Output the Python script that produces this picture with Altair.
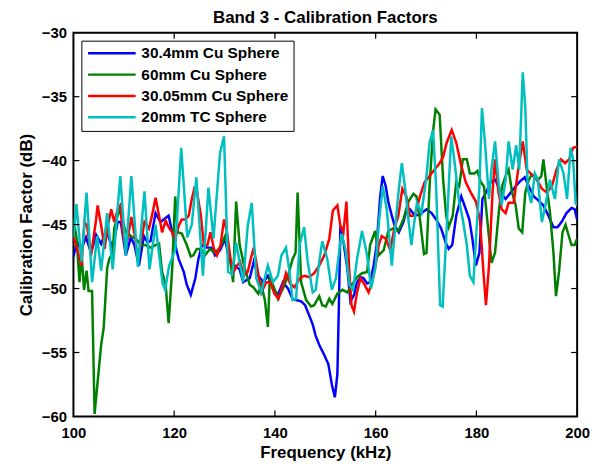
import altair as alt
import pandas as pd

SERIES = ["30.4mm Cu Sphere", "60mm Cu Sphere", "30.05mm Cu Sphere", "20mm TC Sphere"]
COLORS = ["#0000FF", "#008000", "#FF0000", "#00BFBF"]

F_BLUE = [100, 100.7, 101.5, 102.5, 103.5, 104.5, 105.5, 106.5, 107.8, 108.8, 109.4, 110.4, 111.4, 112.1,
          113.0, 114.0, 114.7, 115.3, 116.3, 117.3, 117.9, 118.9, 119.9, 120.9, 121.9, 122.5, 123.3, 124.2,
          124.8, 125.5, 126.5, 127.4, 128.1, 129.1, 130.1, 131.0, 132.0, 133.0, 133.7, 135.0, 135.8, 136.7,
          137.7, 138.6, 139.6, 140.6, 141.6, 142.6, 143.5, 144.2, 145.2, 146.0, 146.8, 147.5, 148.1, 148.9,
          149.8, 150.6, 151.3, 151.9, 152.4, 152.7, 153.0, 153.7, 154.4, 155.0, 155.7, 156.3, 157.0, 157.6,
          158.3, 158.9, 159.6, 160.2, 160.9, 161.4, 162.0, 162.5, 163.2, 163.8, 164.6, 165.5, 166.1, 166.8,
          167.8, 168.8, 170.1, 171.1, 172.0, 173.0, 173.9, 174.5, 175.2, 176.0, 177.0, 177.9, 178.6, 179.2,
          179.9, 180.6, 181.2, 181.9, 182.8, 183.8, 184.8, 185.8, 186.8, 187.8, 188.7, 189.6, 190.4, 191.4,
          192.3, 193.3, 194.3, 195.3, 196.1, 196.9, 197.9, 198.9, 199.5, 200]
V_BLUE = [-47.5, -46.3, -47.0, -46.0, -47.2, -45.8, -46.5, -45.5, -46.8, -44.8, -44.8, -47.4, -46.0, -46.6,
          -48.2, -45.9, -46.4, -46.3, -44.1, -44.8, -44.6, -44.3, -46.1, -47.7, -48.7, -49.7, -50.5, -49.2,
          -47.7, -46.6, -46.8, -46.8, -47.4, -47.0, -46.1, -47.9, -48.2, -48.5, -49.5, -49.2, -47.9, -49.0,
          -49.5, -49.0, -50.0, -50.5, -49.5, -50.0, -50.8, -50.9, -51.0, -51.3, -52.1, -52.8, -53.7, -54.5,
          -55.2, -55.9, -57.5, -58.5, -56.7, -51.3, -45.1, -46.6, -48.5, -51.0, -50.5, -49.5, -49.1, -49.2,
          -49.6, -49.5, -48.2, -46.6, -42.8, -41.2, -42.0, -43.2, -44.3, -45.1, -45.6, -44.8, -43.9, -43.8,
          -44.3, -44.2, -43.8, -44.1, -44.6, -45.3, -46.4, -46.9, -46.6, -44.3, -42.8, -43.8, -44.6, -46.1,
          -48.2, -47.2, -43.0, -42.5, -41.7, -41.5, -42.5, -43.0, -42.5, -42.0, -41.6, -41.3, -42.0, -42.8,
          -43.1, -43.5, -44.3, -45.2, -45.2, -44.8, -44.1, -43.7, -43.8, -44.6]

F_GREEN = [100, 100.6, 101.2, 101.6, 102.1, 102.6, 103.0, 103.7, 104.2, 105.5, 106.0, 106.7, 107.1, 107.8,
           108.1, 109.1, 109.7, 110.4, 111.4, 112.4, 113.4, 114.3, 115.3, 116.3, 117.0, 117.6, 118.3, 118.9,
           119.6, 120.2, 120.7, 121.5, 122.5, 123.3, 123.8, 124.5, 125.3, 126.1, 127.1, 128.1, 129.1, 130.1,
           130.9, 131.7, 132.3, 133.0, 134.0, 135.0, 135.7, 136.7, 137.3, 138.0, 138.6, 139.0, 139.6, 140.6,
           141.6, 142.6, 143.5, 144.1, 144.5, 145.2, 146.2, 147.2, 147.8, 148.8, 149.4, 150.1, 150.8, 151.4,
           152.4, 153.4, 154.4, 155.3, 156.3, 157.3, 158.3, 158.9, 159.9, 160.6, 161.6, 162.5, 163.5, 164.5,
           165.5, 166.5, 167.5, 168.1, 168.8, 169.6, 170.1, 170.7, 171.4, 171.9, 172.7, 173.4, 174.0, 174.5,
           175.3, 176.0, 176.6, 177.3, 178.1, 178.7, 179.6, 180.2, 180.9, 181.5, 183.0, 183.7, 184.5, 185.1,
           185.8, 186.4, 187.1, 187.8, 188.4, 189.1, 189.7, 190.4, 191.0, 191.7, 192.3, 192.9, 193.3, 194.0,
           194.6, 195.3, 195.8, 196.4, 197.1, 197.7, 198.2, 198.9, 199.5, 200]
V_GREEN = [-44.5, -46.0, -49.5, -47.2, -50.1, -48.6, -50.2, -50.2, -59.8, -54.4, -53.1, -48.4, -47.7, -47.2,
           -45.3, -43.8, -44.6, -45.6, -45.9, -46.1, -46.6, -46.6, -46.8, -46.6, -46.5, -48.7, -49.7, -52.7,
           -48.5, -42.8, -45.6, -45.7, -46.6, -47.5, -47.4, -46.9, -46.9, -47.4, -46.9, -47.2, -46.8, -45.9,
           -47.2, -49.5, -43.2, -46.6, -48.4, -49.7, -49.9, -50.4, -49.7, -50.9, -53.0, -49.0, -49.7, -50.8,
           -50.0, -49.0, -47.7, -47.2, -42.5, -49.5, -50.9, -51.4, -51.3, -50.6, -51.3, -51.4, -50.8, -51.2,
           -50.4, -50.1, -50.3, -49.7, -49.1, -48.8, -48.7, -46.6, -45.5, -47.4, -47.0, -45.5, -45.3, -45.5,
           -44.6, -43.2, -42.6, -42.8, -44.6, -47.3, -47.2, -42.0, -37.7, -36.0, -36.4, -41.5, -44.3, -45.2,
           -44.3, -41.7, -42.0, -39.9, -39.9, -41.0, -41.0, -40.8, -41.7, -42.0, -48.0, -47.2, -43.8, -42.0,
           -41.2, -40.7, -42.5, -43.5, -45.3, -45.6, -42.5, -41.5, -41.1, -41.2, -41.5, -41.2, -39.9, -42.2,
           -44.0, -47.2, -50.6, -48.7, -45.6, -45.0, -45.7, -46.6, -46.6, -46.1]

F_RED = [100, 100.8, 101.6, 102.2, 102.7, 103.5, 104.5, 104.8, 105.6, 106.2, 106.8, 107.5, 108.1, 108.8,
         109.3, 109.8, 110.4, 111.1, 111.5, 112.2, 112.8, 113.4, 114.1, 115.0, 115.6, 116.3, 117.0, 117.6,
         118.3, 118.9, 119.6, 120.2, 120.9, 121.5, 122.2, 122.9, 123.5, 124.0, 124.6, 125.3, 125.9, 126.6,
         127.2, 127.9, 128.5, 129.2, 129.9, 130.4, 131.2, 131.8, 132.5, 133.1, 133.8, 134.6, 135.2, 135.8,
         136.5, 137.3, 138.3, 139.1, 139.9, 140.7, 141.6, 142.2, 143.0, 143.9, 144.9, 145.8, 146.8, 147.8,
         148.8, 149.8, 150.8, 151.5, 152.4, 153.0, 153.6, 154.2, 154.7, 155.2, 155.7, 156.3, 157.0, 157.8,
         158.6, 159.3, 159.9, 160.6, 161.2, 162.0, 162.9, 163.7, 164.5, 165.3, 166.1, 166.8, 167.8, 168.8,
         169.7, 170.7, 171.7, 172.7, 173.4, 174.1, 175.1, 176.0, 177.0, 177.9, 178.9, 179.9, 180.7, 181.3,
         181.9, 182.5, 183.2, 183.7, 184.4, 185.0, 185.8, 186.4, 187.4, 188.3, 189.2, 190.0, 191.0, 192.0,
         193.0, 194.0, 195.0, 195.9, 196.8, 197.6, 198.4, 199.2, 200]
V_RED = [-46.0, -47.0, -48.2, -44.8, -45.1, -47.4, -44.6, -43.5, -45.3, -46.9, -45.1, -43.8, -44.8, -43.8,
         -43.5, -45.6, -46.9, -45.3, -44.4, -45.9, -47.7, -46.4, -44.8, -45.3, -44.3, -42.9, -44.3, -45.6,
         -44.7, -45.2, -45.6, -46.1, -45.1, -44.6, -44.6, -44.3, -43.0, -42.2, -42.6, -44.3, -46.6, -46.6,
         -45.6, -46.9, -47.4, -46.6, -44.6, -45.4, -47.7, -48.7, -48.2, -47.9, -49.0, -48.7, -47.7, -46.8,
         -48.4, -50.3, -49.5, -49.5, -50.4, -50.8, -49.7, -48.8, -49.6, -49.9, -49.2, -49.0, -49.1, -48.8,
         -48.2, -47.4, -46.1, -43.9, -43.5, -45.1, -45.6, -43.2, -48.2, -51.3, -51.8, -50.3, -49.2, -49.7,
         -50.3, -49.5, -48.4, -46.6, -45.9, -46.1, -47.0, -45.3, -44.3, -42.2, -42.8, -44.3, -44.3, -42.8,
         -41.7, -41.2, -40.7, -40.2, -39.7, -38.6, -37.6, -38.6, -40.4, -41.7, -42.5, -43.2, -44.6, -48.2,
         -51.3, -48.2, -42.5, -39.9, -42.5, -43.8, -44.1, -43.3, -43.3, -40.7, -38.5, -40.7, -41.1, -41.5,
         -42.2, -42.5, -42.0, -40.7, -39.9, -40.2, -39.9, -39.0, -38.9]

F_CYAN = [100, 100.6, 101.6, 102.6, 103.7, 104.7, 105.5, 106.7, 107.8, 109.3, 110.4, 111.5, 112.8, 114.1,
          115.1, 116.3, 117.7, 118.2, 119.0, 120.2, 121.4, 122.6, 123.5, 124.4, 125.7, 126.8, 127.8, 129.1,
          129.9, 130.7, 131.5, 132.3, 133.7, 134.6, 135.4, 136.3, 137.3, 138.6, 139.6, 140.6, 141.3, 142.2,
          142.9, 143.5, 144.2, 144.9, 145.8, 146.5, 147.5, 148.1, 148.8, 149.4, 150.4, 151.3, 152.1, 153.2,
          154.0, 154.8, 155.5, 156.3, 157.3, 158.3, 159.1, 160.0, 160.7, 161.4, 162.2, 163.2, 163.8, 164.6,
          165.2, 165.8, 166.5, 167.1, 167.5, 168.2, 169.1, 170.1, 170.7, 171.4, 172.0, 172.8, 173.3, 174.0,
          175.0, 175.6, 176.5, 177.3, 178.1, 178.7, 179.4, 180.0, 180.6, 181.1, 181.7, 182.5, 183.0, 183.7,
          184.4, 185.0, 185.8, 186.4, 187.2, 187.9, 188.5, 189.2, 189.7, 190.2, 190.9, 191.6, 192.2, 193.0,
          193.7, 194.6, 195.6, 196.4, 197.3, 198.0, 198.7, 199.2, 199.7, 200]
V_CYAN = [-46.0, -43.4, -47.9, -42.5, -49.5, -45.9, -48.6, -44.1, -48.5, -41.2, -47.4, -41.2, -48.3, -42.4,
          -48.5, -45.0, -49.6, -50.1, -48.2, -47.0, -39.0, -46.0, -45.0, -41.3, -49.0, -42.1, -46.1, -39.4,
          -38.1, -48.7, -48.9, -46.4, -49.5, -45.1, -43.3, -49.2, -50.3, -48.2, -49.5, -49.0, -47.4, -46.8,
          -48.7, -50.9, -50.8, -46.6, -45.2, -47.9, -50.3, -50.1, -47.9, -46.3, -47.7, -50.1, -49.2, -45.7,
          -46.9, -49.7, -50.1, -47.7, -45.5, -47.4, -50.0, -48.2, -44.6, -42.0, -43.8, -48.2, -45.6, -42.2,
          -40.2, -42.0, -44.6, -46.6, -45.3, -43.3, -44.1, -41.2, -38.6, -37.6, -42.0, -51.3, -51.4, -46.1,
          -38.1, -39.9, -43.0, -44.6, -46.6, -49.0, -49.5, -45.6, -42.0, -35.9, -38.6, -43.0, -40.7, -38.5,
          -41.7, -43.5, -41.5, -38.5, -40.7, -38.8, -40.7, -33.1, -35.8, -42.2, -43.3, -41.0, -41.5, -44.8,
          -43.5, -41.5, -43.0, -39.9, -41.0, -43.0, -39.0, -39.9, -43.3, -43.5]

XTICKS = [100, 120, 140, 160, 180, 200]
YTICKS = [-60, -55, -50, -45, -40, -35, -30]

W, H = 508, 387
FONT = "Liberation Sans"

rows = []
for name, fs, vs in zip(SERIES, [F_BLUE, F_GREEN, F_RED, F_CYAN], [V_BLUE, V_GREEN, V_RED, V_CYAN]):
    for i, (f, v) in enumerate(zip(fs, vs)):
        rows.append({"series": name, "freq": f, "cal": v, "idx": i})
df = pd.DataFrame(rows)

xscale = alt.Scale(domain=[100, 200], nice=False, zero=False)
yscale = alt.Scale(domain=[-60, -30], nice=False, zero=False)

lines = alt.Chart(df).mark_line(strokeWidth=2.5, clip=True).encode(
    x=alt.X("freq:Q", scale=xscale,
            axis=alt.Axis(values=XTICKS, ticks=False, domain=False, grid=False, labelFlush=False,
                          title="Frequency (kHz)", labelPadding=9, titlePadding=4)),
    y=alt.Y("cal:Q", scale=yscale,
            axis=alt.Axis(values=YTICKS, ticks=False, domain=False, grid=False, labelFlush=False,
                          title="Calibration Factor (dB)", labelPadding=7, titlePadding=6)),
    color=alt.Color("series:N",
                    scale=alt.Scale(domain=SERIES, range=COLORS),
                    legend=alt.Legend(orient="none", legendX=8, legendY=8, title=None,
                                      symbolType="M-1,0L7,0", symbolSize=144,
                                      symbolStrokeWidth=2.5, labelFont=FONT,
                                      labelFontSize=15.5, labelFontWeight="bold",
                                      labelColor="black", labelOffset=40, rowPadding=4.5,
                                      padding=5, fillColor="white", strokeColor="black",
                                      cornerRadius=0)),
    order="idx:Q",
)

xt = pd.DataFrame({"t": XTICKS[1:-1]})
yt = pd.DataFrame({"t": YTICKS[1:-1]})

bt = alt.Chart(xt).mark_rule(color="black", strokeWidth=1.2).encode(
    x=alt.X("t:Q", scale=xscale), y=alt.value(H), y2=alt.value(H - 6))
tt = alt.Chart(xt).mark_rule(color="black", strokeWidth=1.2).encode(
    x=alt.X("t:Q", scale=xscale), y=alt.value(0), y2=alt.value(6))
lt = alt.Chart(yt).mark_rule(color="black", strokeWidth=1.2).encode(
    y=alt.Y("t:Q", scale=yscale), x=alt.value(0), x2=alt.value(6))
rt = alt.Chart(yt).mark_rule(color="black", strokeWidth=1.2).encode(
    y=alt.Y("t:Q", scale=yscale), x=alt.value(W), x2=alt.value(W - 6))

chart = alt.layer(lines, bt, tt, lt, rt).properties(
    width=W, height=H,
    background="white",
    title=alt.Title("Band 3 - Calibration Factors", font=FONT, fontSize=17,
                    fontWeight="bold", color="black", offset=-1),
    autosize=alt.AutoSizeParams(type="none"),
    padding={"left": 66, "top": 23, "right": 16, "bottom": 45},
).configure_view(stroke="black", strokeWidth=2).configure_axis(
    labelFont=FONT, labelFontSize=15, labelFontWeight="bold", labelColor="black",
    titleFont=FONT, titleFontSize=17, titleFontWeight="bold", titleColor="black",
)

chart.save("out.html", embed_options={"renderer": "svg", "actions": False})
